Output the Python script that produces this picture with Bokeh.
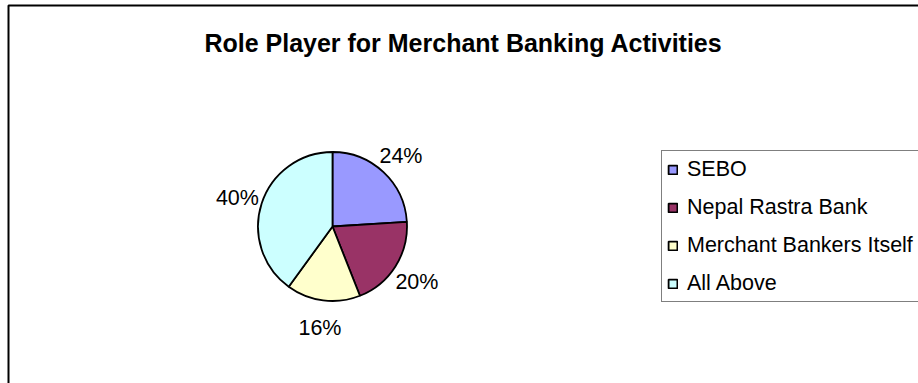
import numpy as np
from bokeh.plotting import figure
from bokeh.models import Range1d, Legend, LegendItem, Label, ColumnDataSource, BoxAnnotation
from bokeh.core.properties import value
from bokeh.embed import file_html
from bokeh.resources import INLINE

# data
categories = ["SEBO", "Nepal Rastra Bank", "Merchant Bankers Itself", "All Above"]
percentages = [24, 20, 16, 40]
colors = ["#9999FF", "#993366", "#FFFFCC", "#CCFFFF"]
title_text = "Role Player for Merchant Banking Activities"

W, H = 918, 383
FONT = "Liberation Sans"

p = figure(width=W, height=H, output_backend="svg", toolbar_location=None,
           x_range=Range1d(0, W), y_range=Range1d(0, H), min_border=0)
p.axis.visible = False
p.grid.visible = False
p.outline_line_color = None
p.background_fill_color = "white"
p.border_fill_color = "white"

# outer chart frame
p.add_layout(BoxAnnotation(left=8, right=W + 20, bottom=-20, top=H - 5,
                           fill_color=None, fill_alpha=0, line_color="black",
                           line_alpha=1, line_width=2))

# pie geometry
cx, cy, r = 332, H - 226, 74.5
vals = np.array(percentages, dtype=float)
frac = vals / vals.sum()
cum = np.concatenate([[0], np.cumsum(frac)])
start = np.pi / 2 - cum[1:] * 2 * np.pi
end = np.pi / 2 - cum[:-1] * 2 * np.pi
mid = (start + end) / 2

src = ColumnDataSource(dict(start=start, end=end, color=colors, cat=categories))
wr = p.wedge(x=cx, y=cy, radius=r, start_angle="start", end_angle="end",
             fill_color="color", line_color="black", line_width=1.8, source=src)

lr = 100
lab_src = ColumnDataSource(dict(x=cx + lr * np.cos(mid), y=cy + lr * np.sin(mid) - 2,
                                t=[f"{v}%" for v in percentages]))
p.text(x="x", y="y", text="t", source=lab_src, text_font=value(FONT),
       text_font_size="21.5px", text_align="center", text_baseline="middle",
       text_color="black")

p.add_layout(Label(x=463, y=H - 42, text=title_text, text_font=FONT,
                   text_font_size="25px", text_font_style="bold",
                   text_align="center", text_baseline="middle", text_color="black"))

items = [LegendItem(label=c, renderers=[wr], index=i) for i, c in enumerate(categories)]
legend = Legend(items=items, location=(661, H - 302), orientation="vertical",
                border_line_color="black", border_line_width=1.5,
                background_fill_color="white", background_fill_alpha=1,
                label_text_font=FONT, label_text_font_size="21.5px",
                label_text_color="black", glyph_width=11, glyph_height=11,
                label_height=26, label_standoff=9, spacing=12, padding=5, margin=0)
p.add_layout(legend)

open("out.html", "w").write(file_html(p, INLINE))
